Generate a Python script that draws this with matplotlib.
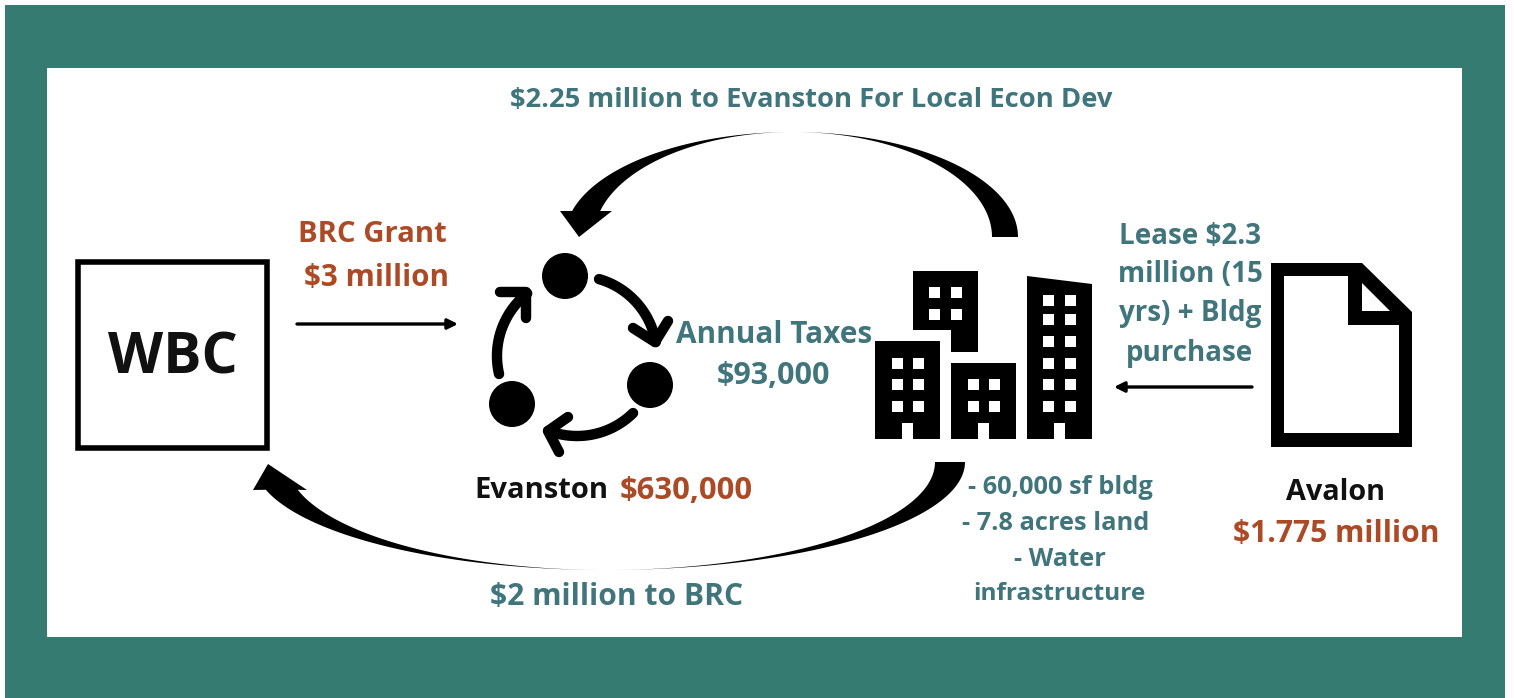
import numpy as np
import matplotlib
matplotlib.use("Agg")
import matplotlib.pyplot as plt
from matplotlib.patches import Rectangle, Circle, Polygon
plt.rcParams['font.family'] = ['Open Sans', 'DejaVu Sans']

TEAL = '#357b71'
BLUE = '#41757c'
RUST = '#ad4a26'

# labels: text, x, y, size
blue_labels = [
    ("$2.25 million to Evanston For Local Econ Dev", 811, 100, 19.7),
    ("Lease $2.3", 1190, 236, 20),
    ("million (15", 1190, 275, 20),
    ("yrs) + Bldg", 1190, 314, 20),
    ("purchase", 1190, 353, 20),
    ("Annual Taxes", 774, 335, 21.4),
    ("$93,000", 774, 376, 22),
    ("- 60,000 sf bldg", 1060, 488, 18.3),
    ("- 7.8 acres land", 1056, 523, 18.3),
    ("- Water", 1060, 559, 18.3),
    ("infrastructure", 1059, 594, 17.6),
    ("$2 million to BRC", 617, 597, 21.6),
]
rust_labels = [
    ("BRC Grant", 372, 235, 21.1),
    ("$3 million", 376, 278, 21.3),
    ("$630,000", 686, 491, 22.3),
    ("$1.775 million", 1336, 534, 21.6),
]
black_labels = [
    ("Evanston", 541, 491, 21),
    ("Avalon", 1336, 492, 20.8),
]

# cycle icon nodes
node_x = [565, 650, 512]
node_y = [276, 385, 404]
# cycle arcs: start and end angle in degrees round the icon centre
arc_angles = [(-74, -10), (45.5, 111), (167, 231.5)]

# buildings: left, top, right, bottom
buildings = [(875, 341, 940, 439), (951, 363, 1016, 439)]
tower_outline = [(1027, 276), (1092, 284), (1092, 439), (1027, 439)]
top_block = [(913, 271), (978, 271), (978, 352), (951, 352), (951, 330), (913, 330)]
# window columns / rows
windows = [
    ([897, 918.5], [363, 384.5, 406.5]),
    ([973, 994.5], [384.5, 406.5]),
    ([1048.5, 1070.5], [300.5, 319.5, 341, 363, 384.5, 406.5]),
    ([934.5, 956.5], [292, 314]),
]
door_x = [902, 978, 1054]


def ellipse_side(cx, cy, a, b, t0, t1, n=80):
    t = np.linspace(t0, t1, n)
    return np.column_stack([cx + a * np.cos(t), cy + b * np.sin(t)])


def small_arrow(ax, x0, x1, y):
    ax.annotate("", xy=(x1, y), xytext=(x0, y),
                arrowprops=dict(arrowstyle='-|>,head_length=0.6,head_width=0.3', lw=2.4, color='black',
                                shrinkA=0, shrinkB=0))


fig = plt.figure(figsize=(15.14, 6.98), dpi=100, facecolor='white')
ax = fig.add_axes([0, 0, 1, 1])
ax.set_xlim(0, 1514)
ax.set_ylim(698, 0)
ax.axis('off')

ax.add_patch(Rectangle((5, 5), 1500, 693, fc=TEAL, ec='none'))
ax.add_patch(Rectangle((47, 68), 1415, 569, fc='white', ec='none'))

# WBC box
ax.add_patch(Rectangle((78, 262), 189, 186, fc='white', ec='black', lw=4))
ax.text(173, 358, "WBC", fontsize=41, fontweight='bold', color='#111111', ha='center', va='center')

# top arrow, two half ellipses meeting at the apex
top_out_r = ellipse_side(793, 237, 225, 105, 0, -np.pi / 2)
top_out_l = ellipse_side(793, 237, 228, 105, -np.pi / 2, -np.pi + 0.25)
top_in_l = ellipse_side(793, 237, 199, 105, -np.pi + 0.25, -np.pi / 2)
top_in_r = ellipse_side(793, 237, 199, 105, -np.pi / 2, 0)
head = [(612, 211), (579, 237), (560, 211)]
ax.add_patch(Polygon(np.vstack([top_out_r, top_out_l, head[::-1], top_in_l, top_in_r]), fc='black', ec='none'))

# bottom arrow
bot_out_r = ellipse_side(606, 462, 359, 108, 0, np.pi / 2)
bot_out_l = ellipse_side(606, 462, 352, 108, np.pi / 2, np.pi - 0.26)
bot_in_l = ellipse_side(606, 462, 319, 108, np.pi - 0.26, np.pi / 2)
bot_in_r = ellipse_side(606, 462, 329, 108, np.pi / 2, 0)
head = [(253, 490), (268, 464), (307, 490)]
ax.add_patch(Polygon(np.vstack([bot_out_r, bot_out_l, head, bot_in_l, bot_in_r]), fc='black', ec='none'))

# cycle icon
for x, y in zip(node_x, node_y):
    ax.add_patch(Circle((x, y), 23, fc='black', ec='none'))
for a0, a1 in arc_angles:
    arc = ellipse_side(577, 356, 80, 80, np.radians(a0), np.radians(a1))
    ax.plot(arc[:, 0], arc[:, 1], color='black', lw=7.5, solid_capstyle='round')
for pts in [[(633, 328), (655, 342), (668, 321)], [(568, 417), (548, 431), (559, 452)],
            [(500, 292), (526, 292), (526, 318)]]:
    ax.plot(*zip(*pts), color='black', lw=7.5, solid_capstyle='round', solid_joinstyle='round')

# buildings
for left, top, right, bottom in buildings:
    ax.add_patch(Rectangle((left, top), right - left, bottom - top, fc='black', ec='none'))
ax.add_patch(Polygon(tower_outline, fc='black', ec='none'))
ax.add_patch(Polygon(top_block, fc='black', ec='none'))
for cols, rows in windows:
    for cx in cols:
        for cy in rows:
            ax.add_patch(Rectangle((cx - 5.5, cy - 5.5), 11, 11, fc='white', ec='none'))
for dx in door_x:
    ax.add_patch(Rectangle((dx, 423), 11, 16, fc='white', ec='none'))

# document icon
doc = [(1271, 263), (1362, 263), (1412, 312), (1412, 447), (1271, 447)]
ax.add_patch(Polygon(doc, fc='black', ec='none'))
ax.add_patch(Polygon([(1284, 276), (1348, 276), (1348, 325), (1399, 325), (1399, 433), (1284, 433)],
                     fc='white', ec='none'))
ax.add_patch(Polygon([(1362, 283), (1390, 311), (1362, 311)], fc='white', ec='none'))

# small arrows
small_arrow(ax, 297, 458, 324)
small_arrow(ax, 1252, 1114, 387)

for group, col in [(blue_labels, BLUE), (rust_labels, RUST), (black_labels, '#111111')]:
    for txt, x, y, size in group:
        ax.text(x, y, txt.replace("$", r"\$"), fontsize=size, fontweight='bold',
                color=col, ha='center', va='center')

fig.savefig('out.png', dpi=100)
